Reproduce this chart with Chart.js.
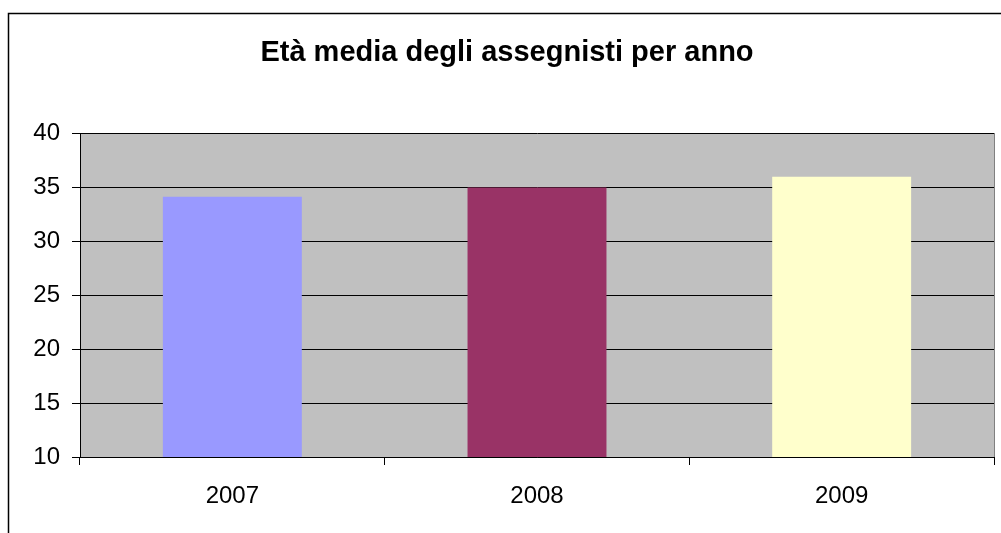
<!DOCTYPE html>
<html>
<head>
<meta charset="utf-8">
<script src="https://cdn.jsdelivr.net/npm/chart.js@4/dist/chart.umd.min.js"></script>
<style>
  body { margin: 0; background: #fff; }
  canvas { display: block; }
</style>
</head>
<body>
<canvas id="chart" width="1001" height="533"></canvas>
<script>
// data
var years = ["2007", "2008", "2009"];
var avgAge = [34.1, 34.95, 35.95];
var barColors = ["#9999FF", "#993366", "#FFFFCC"];
var titleText = "Età media degli assegnisti per anno";

var fontFamily = "'Liberation Sans', Arial, sans-serif";

// white page, outer frame and grey plot area
var backdrop = {
    id: 'backdrop',
    beforeDraw: function (chart) {
        var ctx = chart.ctx;
        var a = chart.chartArea;
        ctx.save();
        ctx.fillStyle = '#ffffff';
        ctx.fillRect(0, 0, chart.width, chart.height);
        ctx.strokeStyle = '#000000';
        ctx.lineWidth = 1.5;
        ctx.strokeRect(8.5, 13.5, 1200, 700);
        ctx.fillStyle = '#C0C0C0';
        ctx.fillRect(a.left, a.top, a.right - a.left, a.bottom - a.top);
        ctx.restore();
    },
    afterDatasetsDraw: function (chart) {
        var ctx = chart.ctx;
        var a = chart.chartArea;
        ctx.save();
        ctx.strokeStyle = '#808080';
        ctx.lineWidth = 1;
        ctx.beginPath();
        ctx.moveTo(a.right + 0.5, a.top);
        ctx.lineTo(a.right + 0.5, a.bottom);
        ctx.stroke();
        ctx.restore();
    }
};

var ctx = document.getElementById("chart").getContext('2d');
var myChart = new Chart(ctx, {
    type: 'bar',
    data: {
        labels: years,
        datasets: [{
            data: avgAge,
            backgroundColor: barColors,
            borderWidth: 0,
            barPercentage: 0.456,
            categoryPercentage: 1
        }]
    },
    options: {
        responsive: false,
        devicePixelRatio: 1,
        animation: false,
        layout: {
            padding: { left: 20, right: 7, top: 0, bottom: 0 }
        },
        plugins: {
            legend: { display: false },
            tooltip: { enabled: false },
            title: {
                display: true,
                text: titleText,
                color: '#000000',
                font: { family: fontFamily, size: 29, weight: 'bold', lineHeight: 1.2 },
                padding: { top: 35.6, bottom: 62.6 }
            }
        },
        scales: {
            x: {
                offset: true,
                afterFit: function (scale) { scale.height = 76; },
                grid: {
                    drawOnChartArea: false,
                    drawTicks: true,
                    tickLength: 8,
                    color: '#000000',
                    offset: true
                },
                border: { color: '#000000', width: 1 },
                ticks: {
                    color: '#000000',
                    padding: 17,
                    font: { family: fontFamily, size: 24 }
                }
            },
            y: {
                min: 10,
                max: 40,
                afterFit: function (scale) { scale.width = 60; },
                grid: {
                    color: '#000000',
                    tickLength: 8
                },
                border: { color: '#000000', width: 1 },
                ticks: {
                    stepSize: 5,
                    color: '#000000',
                    padding: 12,
                    font: { family: fontFamily, size: 24 }
                }
            }
        }
    },
    plugins: [backdrop]
});
</script>
</body>
</html>
